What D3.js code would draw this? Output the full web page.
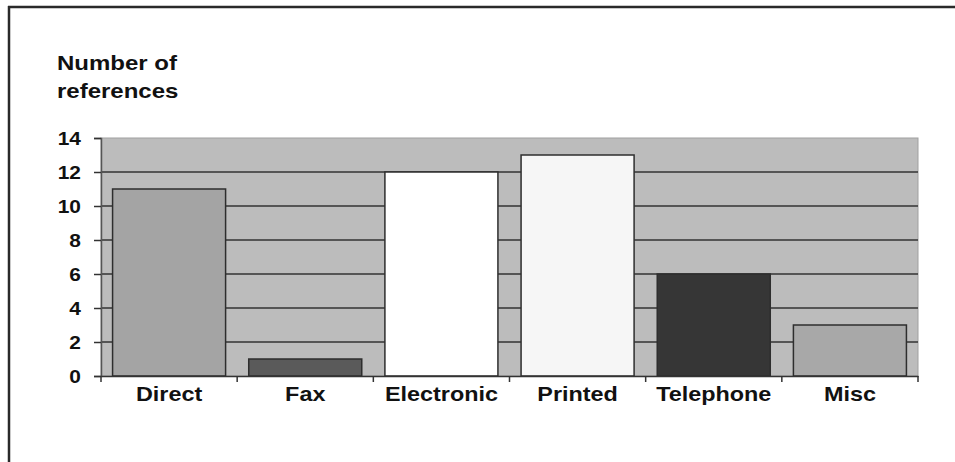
<!DOCTYPE html>
<html><head><meta charset="utf-8">
<script src="https://cdn.jsdelivr.net/npm/d3@7"></script>
<style>html,body{margin:0;padding:0;background:#fff;}svg{display:block;}</style>
</head><body>
<script>
const categories = ["Direct","Fax","Electronic","Printed","Telephone","Misc"];
const values = [11,1,12,13,6,3];
const barColors = ["#a4a4a4","#5a5a5a","#ffffff","#f6f6f6","#363636","#a8a8a8"];
const yTicks = [0,2,4,6,8,10,12,14];
const titleLines = ["Number of","references"];

const W=955,H=462;
const FONT="Liberation Sans, Arial, sans-serif";
const svg=d3.select("body").append("svg").attr("width",W).attr("height",H);
svg.append("rect").attr("width",W).attr("height",H).attr("fill","#fff");
// frame
svg.append("line").attr("x1",8).attr("x2",W).attr("y1",7).attr("y2",7).attr("stroke","#2a2a2a").attr("stroke-width",2.5);
svg.append("line").attr("x1",9).attr("x2",9).attr("y1",6).attr("y2",H).attr("stroke","#2a2a2a").attr("stroke-width",2.5);

const m={l:101,r:918,t:138,b:376};
const x=d3.scaleBand().domain(categories).range([m.l,m.r]).paddingInner(0.17).paddingOuter(0.085);
const y=d3.scaleLinear().domain([0,14]).range([m.b,m.t]);

// plot area
svg.append("rect").attr("x",m.l).attr("y",m.t).attr("width",m.r-m.l).attr("height",m.b-m.t)
  .attr("fill","#bcbcbc").attr("stroke","#a0a0a0").attr("stroke-width",1);
// gridlines
svg.append("g").selectAll("line").data(yTicks.filter(d=>d>0&&d<14)).join("line")
  .attr("x1",m.l).attr("x2",m.r).attr("y1",d=>y(d)).attr("y2",d=>y(d))
  .attr("stroke","#333").attr("stroke-width",1.5);

// bars
svg.append("g").selectAll("rect").data(values).join("rect")
  .attr("x",(d,i)=>x(categories[i])).attr("width",x.bandwidth())
  .attr("y",d=>y(d)).attr("height",d=>y(0)-y(d))
  .attr("fill",(d,i)=>barColors[i]).attr("stroke","#2e2e2e").attr("stroke-width",1.5);

// y axis
const ya=svg.append("g").attr("transform",`translate(${m.l},0)`)
  .call(d3.axisLeft(y).tickValues(yTicks).tickSize(7).tickFormat(d3.format("d")));
ya.select(".domain").attr("stroke","#555").attr("stroke-width",1.5);
ya.selectAll(".tick line").attr("stroke","#333").attr("stroke-width",1.5);
ya.selectAll("text").attr("font-family",FONT).attr("font-weight","bold")
  .attr("font-size",19).attr("fill","#111").attr("x",0).attr("dy","0.36em")
  .attr("transform","translate(-20,0) scale(1.1,1)");

// x axis
const xa=svg.append("g").attr("transform",`translate(0,${m.b})`)
  .call(d3.axisBottom(x).tickSize(0).tickPadding(0));
xa.select(".domain").attr("stroke","#333").attr("stroke-width",1.5);
xa.selectAll("text").attr("font-family",FONT).attr("font-weight","bold")
  .attr("font-size",20).attr("fill","#111").attr("y",25).attr("dy",0)
  .attr("transform","scale(1.17,1)");
// category separator ticks
const step=x.step();
const seps=d3.range(categories.length+1).map(i=>i===0?m.l:(i===categories.length?m.r:x(categories[i])-x.paddingInner()*step/2));
svg.append("g").selectAll("line").data(seps).join("line")
  .attr("x1",d=>d).attr("x2",d=>d).attr("y1",m.b).attr("y2",m.b+6)
  .attr("stroke","#333").attr("stroke-width",1.5);

// title
svg.append("text").attr("transform","translate(57,0) scale(1.2,1)").attr("font-family",FONT)
  .attr("font-weight","bold").attr("font-size",20).attr("fill","#111")
  .selectAll("tspan").data(titleLines).join("tspan").attr("x",0).attr("y",(d,i)=>i?98:70).text(d=>d);
</script>
</body></html>
